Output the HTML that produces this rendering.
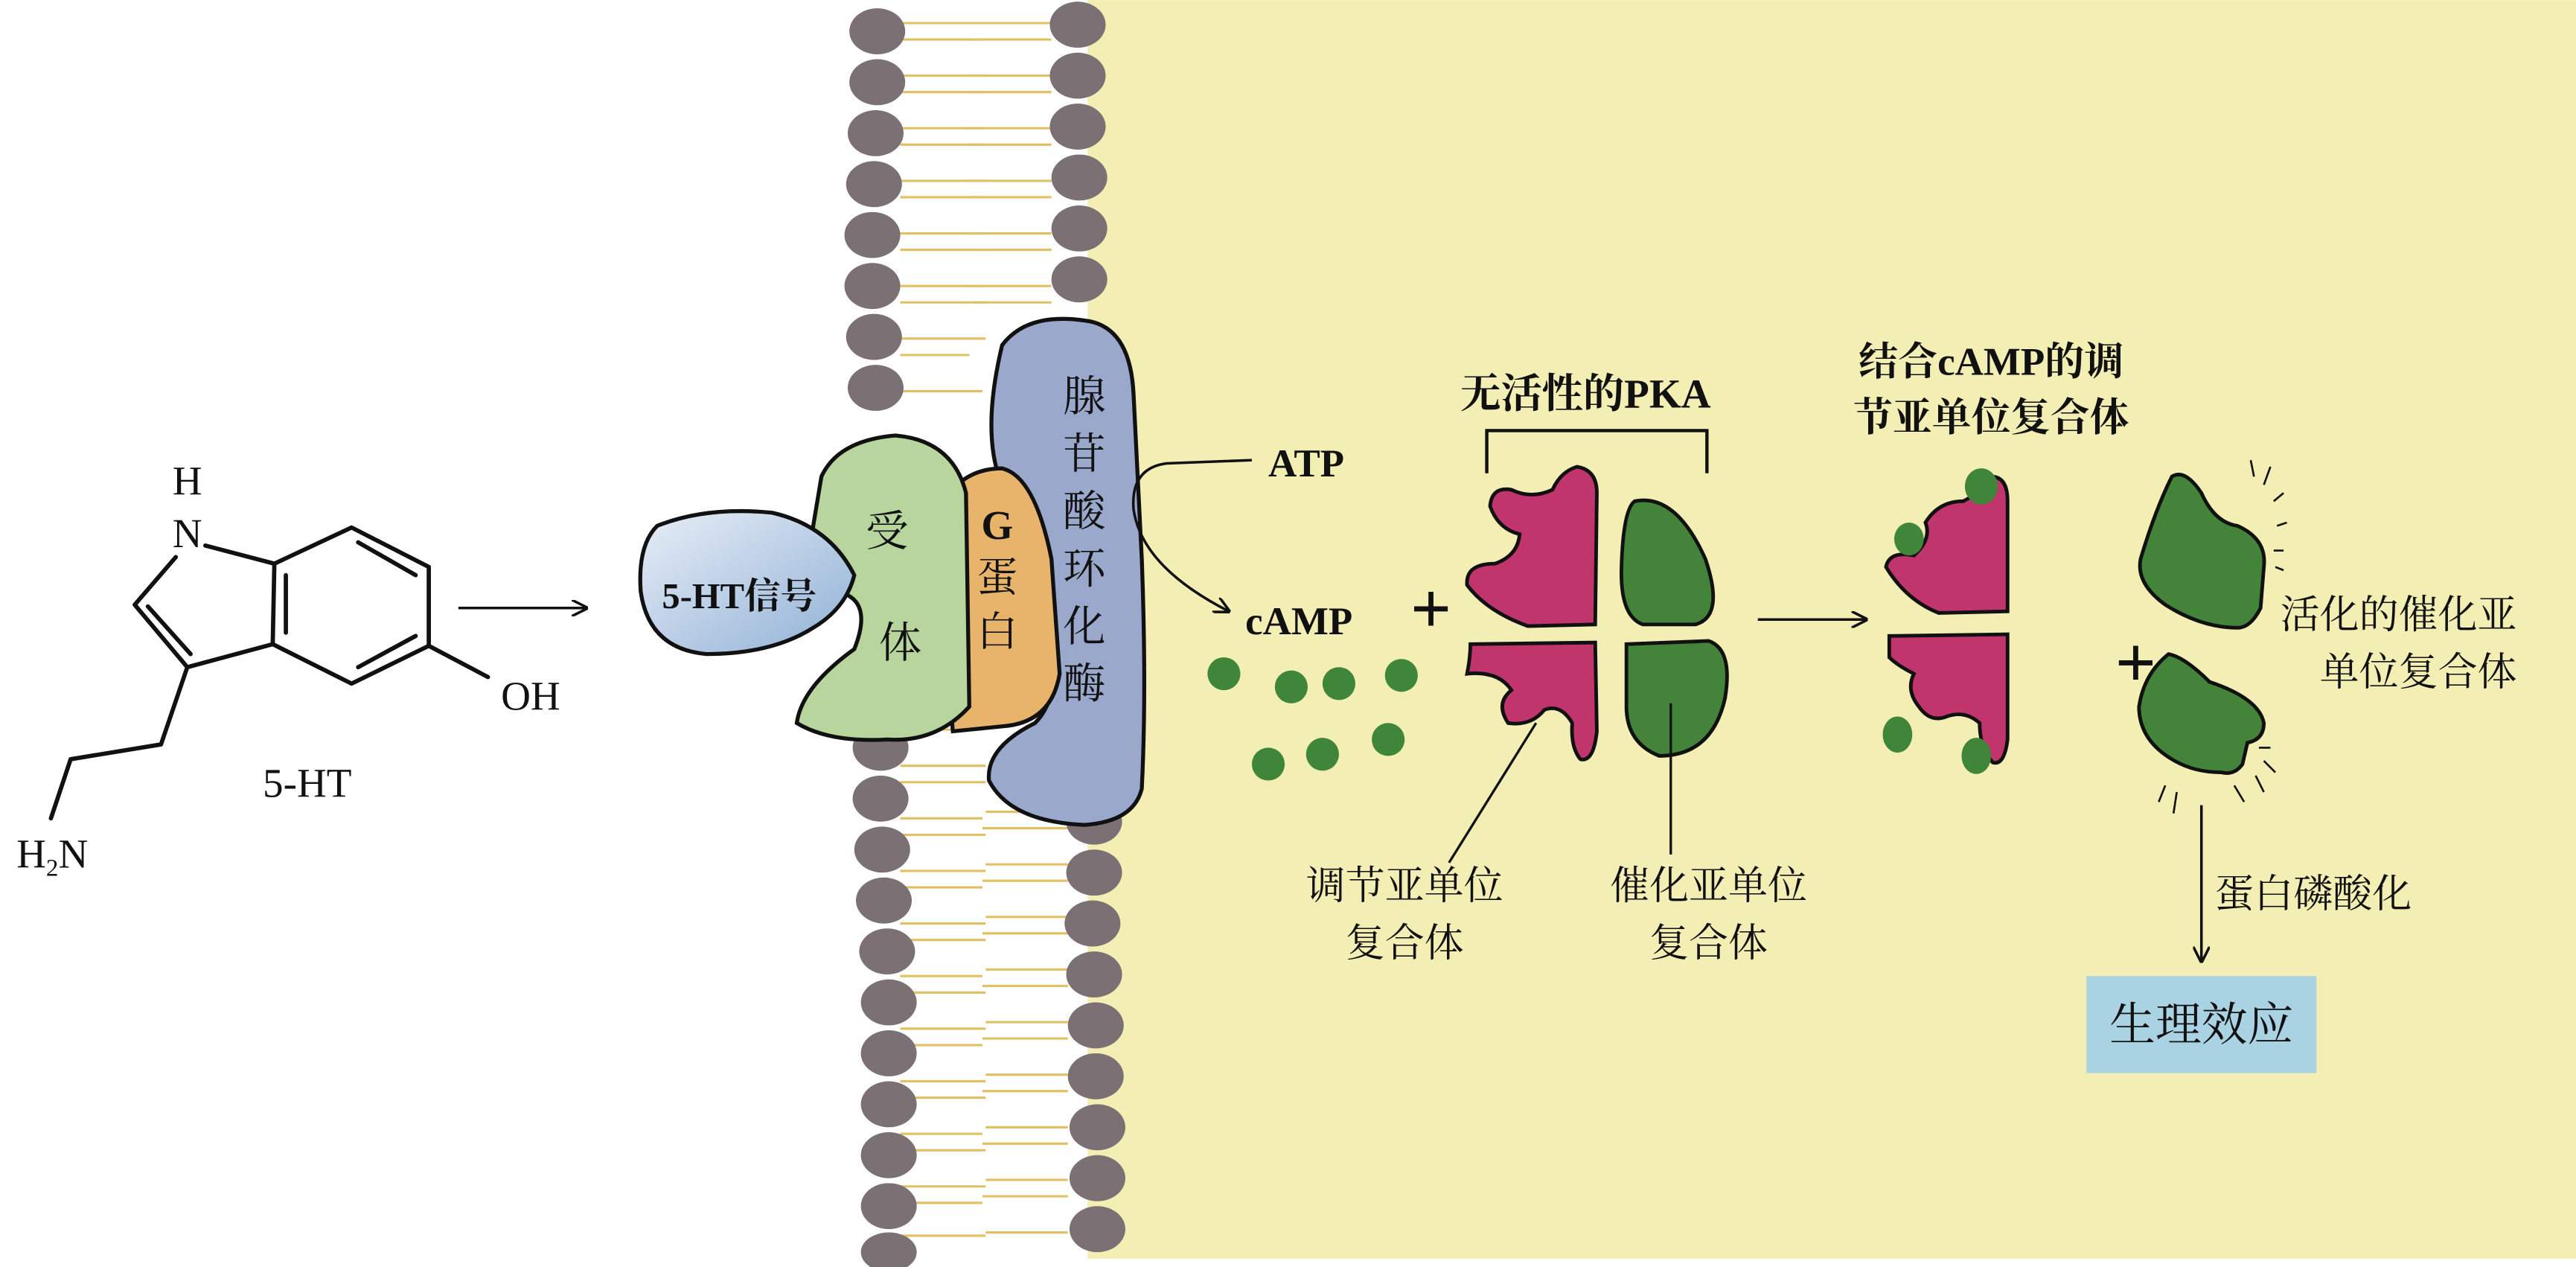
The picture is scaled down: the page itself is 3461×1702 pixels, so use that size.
<!DOCTYPE html>
<html><head><meta charset="utf-8"><style>
html,body{margin:0;padding:0;background:#fff}
svg{display:block}
text{font-family:"Liberation Serif","Noto Serif CJK SC",serif;fill:#111}
</style></head><body>
<svg width="3461" height="1702" viewBox="0 0 1568 771" xmlns="http://www.w3.org/2000/svg">
<defs>
<linearGradient id="sig" x1="0" y1="0" x2="1" y2="1">
<stop offset="0" stop-color="#e8eef6"/><stop offset="1" stop-color="#8fb0d6"/></linearGradient>
<marker id="ar" markerWidth="10" markerHeight="10" refX="9" refY="5" orient="auto" markerUnits="userSpaceOnUse">
<path d="M0,0 L10,5 L0,10" fill="none" stroke="#111" stroke-width="1.6"/></marker>
</defs>
<rect x="0" y="0" width="1568" height="771" fill="#fff"/>
<rect x="662" y="0" width="906" height="766" fill="#f2eeb4"/>

<g stroke="#e3bf63" stroke-width="1.4" fill="none">
<path d="M548,14 H600 M548,24 H598 M548,46 H600 M548,56 H600 M548,78 H598 M548,88 H600 M548,110 H600 M548,120 H598 M548,142 H600 M548,152 H600 M548,174 H598 M548,184 H600 M548,206 H600 M548,216 H590 M548,238 H598"/>
<path d="M548,434 H600 M548,444 H598 M548,466 H600 M548,476 H600 M548,498 H598 M548,508 H600 M548,530 H600 M548,540 H598 M548,562 H600 M548,572 H600 M548,594 H598 M548,604 H600 M548,626 H600 M548,636 H598 M548,658 H600 M548,668 H600 M548,690 H598 M548,700 H600 M548,722 H600 M548,732 H598 M548,752 H600"/>
<path d="M640,14 H588 M640,24 H590 M640,46 H588 M640,56 H590 M640,78 H588 M640,88 H590 M640,110 H588 M640,120 H590 M640,142 H588 M640,152 H590 M640,174 H588 M640,184 H592"/>
<path d="M650,494 H600 M650,504 H598 M650,526 H600 M650,536 H598 M650,558 H600 M650,568 H598 M650,590 H600 M650,600 H598 M650,622 H600 M650,632 H598 M650,654 H600 M650,664 H598 M650,686 H600 M650,696 H598 M650,718 H600 M650,728 H598 M650,750 H600"/>
</g>
<g fill="#7b7175">
<ellipse cx="534" cy="19" rx="17" ry="14"/><ellipse cx="534" cy="50" rx="17" ry="14"/><ellipse cx="533" cy="81" rx="17" ry="14"/><ellipse cx="532" cy="112" rx="17" ry="14"/><ellipse cx="531" cy="143" rx="17" ry="14"/><ellipse cx="531" cy="174" rx="17" ry="14"/><ellipse cx="532" cy="205" rx="17" ry="14"/><ellipse cx="533" cy="236" rx="17" ry="14"/>
<ellipse cx="536" cy="455" rx="17" ry="14"/><ellipse cx="536" cy="486" rx="17" ry="14"/><ellipse cx="537" cy="517" rx="17" ry="14"/><ellipse cx="538" cy="548" rx="17" ry="14"/><ellipse cx="540" cy="579" rx="17" ry="14"/><ellipse cx="541" cy="610" rx="17" ry="14"/><ellipse cx="541" cy="641" rx="17" ry="14"/><ellipse cx="541" cy="672" rx="17" ry="14"/><ellipse cx="541" cy="703" rx="17" ry="14"/><ellipse cx="541" cy="734" rx="17" ry="14"/><ellipse cx="541" cy="762" rx="17" ry="12"/>
<ellipse cx="656" cy="15" rx="17" ry="14"/><ellipse cx="656" cy="46" rx="17" ry="14"/><ellipse cx="656" cy="77" rx="17" ry="14"/><ellipse cx="657" cy="108" rx="17" ry="14"/><ellipse cx="657" cy="139" rx="17" ry="14"/><ellipse cx="657" cy="170" rx="17" ry="14"/>
<ellipse cx="666" cy="500" rx="17" ry="14"/><ellipse cx="666" cy="531" rx="17" ry="14"/><ellipse cx="665" cy="562" rx="17" ry="14"/><ellipse cx="666" cy="593" rx="17" ry="14"/><ellipse cx="667" cy="624" rx="17" ry="14"/><ellipse cx="667" cy="655" rx="17" ry="14"/><ellipse cx="668" cy="686" rx="17" ry="14"/><ellipse cx="668" cy="717" rx="17" ry="14"/><ellipse cx="668" cy="748" rx="17" ry="14"/>
</g>

<!-- 5-HT molecule -->
<g stroke="#111" stroke-width="2.6" fill="none" stroke-linecap="round" stroke-linejoin="round">
<path d="M167,343 L214,321 L261,345 L261,393 L214,416 L166,392 Z"/>
<path d="M174,350 L174,385 M218,330 L253,350 M218,406 L253,387"/>
<path d="M125,332 L167,343"/>
<path d="M107,339 L82,368 L114,406 L166,392"/>
<path d="M90,369 L116,398"/>
<path d="M114,406 L98,453 L43,462 L31,498"/>
<path d="M261,393 L297,412"/>
</g>
<text x="114" y="301" font-size="25" text-anchor="middle">H</text>
<text x="114" y="333" font-size="25" text-anchor="middle">N</text>
<text x="323" y="432" font-size="25" text-anchor="middle">OH</text>
<text x="10" y="528" font-size="25">H<tspan font-size="15" dy="5">2</tspan><tspan dy="-5">N</tspan></text>
<text x="187" y="485" font-size="25" text-anchor="middle">5-HT</text>
<line x1="279" y1="370" x2="357" y2="370" stroke="#111" stroke-width="1.6" marker-end="url(#ar)"/>

<path d="M610,210 Q625,190 660,195 Q688,198 690,240 L695,340 Q698,420 695,480 Q690,500 660,502 Q615,500 602,475 Q600,455 630,440 Q650,420 640,360 Q628,310 608,290 Q598,260 610,210 Z" fill="#9aa9cb" stroke="#111" stroke-width="2.4"/>
<path d="M578,300 Q590,285 610,285 Q630,290 640,340 L645,410 Q640,440 610,442 L580,445 Q574,380 578,300 Z" fill="#e8b46c" stroke="#111" stroke-width="2.4"/>
<path d="M500,290 Q510,268 545,265 Q580,268 588,300 L590,430 Q570,452 540,450 Q505,452 485,440 Q488,418 520,395 Q532,365 510,360 Q492,345 495,320 Z" fill="#b7d59d" stroke="#111" stroke-width="2.4"/>
<path d="M400,320 Q430,308 470,312 Q505,320 520,350 Q515,370 495,382 Q470,398 430,398 Q395,395 390,360 Q388,332 400,320 Z" fill="url(#sig)" stroke="#111" stroke-width="2.4"/>
<text x="450" y="370" font-size="22" text-anchor="middle" font-weight="bold">5-HT信号</text>
<text x="540" y="332" font-size="26" text-anchor="middle">受</text>
<text x="548" y="400" font-size="26" text-anchor="middle">体</text>
<text x="607" y="328" font-size="25" text-anchor="middle" font-weight="bold">G</text>
<text x="607" y="360" font-size="25" text-anchor="middle">蛋</text>
<text x="607" y="393" font-size="25" text-anchor="middle">白</text>
<g font-size="26" text-anchor="middle">
<text x="660" y="250">腺</text><text x="660" y="285">苷</text><text x="660" y="320">酸</text><text x="660" y="355">环</text><text x="660" y="390">化</text><text x="660" y="425">酶</text>
</g>

<path d="M762,280 L710,282 Q688,285 690,310 Q695,345 748,372" fill="none" stroke="#111" stroke-width="1.6" marker-end="url(#ar)"/>
<text x="772" y="290" font-size="24" font-weight="bold">ATP</text>
<text x="758" y="386" font-size="24" font-weight="bold">cAMP</text>
<text x="871" y="385" font-size="44" font-weight="bold" text-anchor="middle">+</text>
<g fill="#3f853a">
<circle cx="745" cy="410" r="10"/><circle cx="786" cy="418" r="10"/><circle cx="815" cy="416" r="10"/><circle cx="853" cy="411" r="10"/><circle cx="772" cy="465" r="10"/><circle cx="805" cy="459" r="10"/><circle cx="845" cy="450" r="10"/>
</g>

<text x="965" y="248" font-size="25" text-anchor="middle" font-weight="bold">无活性的PKA</text>
<path d="M905,288 V262 H1039 V288" fill="none" stroke="#111" stroke-width="2"/>
<g stroke="#111" stroke-width="2.2">
<path d="M960,284 Q972,286 972,300 L971,380 L930,381 Q905,372 893,356 Q892,343 910,343 Q924,338 925,325 Q912,322 907,308 Q908,296 920,298 Q932,304 945,298 Q950,287 960,284 Z" fill="#c0356b"/>
<path d="M895,392 L971,391 L972,445 Q970,464 962,462 Q956,455 957,440 Q950,428 940,432 Q932,442 918,440 Q910,428 920,420 Q912,408 893,410 Q895,400 895,392 Z" fill="#c0356b"/>
<path d="M995,305 Q1020,300 1038,340 Q1050,375 1032,380 L1000,380 Q986,375 987,345 Q988,310 995,305 Z" fill="#43843a"/>
<path d="M990,392 L1040,390 Q1055,395 1050,425 Q1042,460 1010,460 Q990,452 990,430 Z" fill="#43843a"/>
</g>
<line x1="935" y1="440" x2="882" y2="525" stroke="#111" stroke-width="1.5"/>
<line x1="1017" y1="428" x2="1017" y2="520" stroke="#111" stroke-width="1.5"/>
<text x="855" y="547" font-size="24" text-anchor="middle">调节亚单位</text>
<text x="855" y="582" font-size="24" text-anchor="middle">复合体</text>
<text x="1040" y="547" font-size="24" text-anchor="middle">催化亚单位</text>
<text x="1040" y="582" font-size="24" text-anchor="middle">复合体</text>

<line x1="1070" y1="377" x2="1136" y2="377" stroke="#111" stroke-width="1.6" marker-end="url(#ar)"/>

<text x="1212" y="228" font-size="24" text-anchor="middle" font-weight="bold">结合cAMP的调</text>
<text x="1212" y="262" font-size="24" text-anchor="middle" font-weight="bold">节亚单位复合体</text>
<g stroke="#111" stroke-width="2.2">
<path d="M1212,290 Q1222,290 1222,305 L1222,372 L1180,373 Q1160,365 1148,345 Q1150,335 1165,338 Q1176,328 1172,318 Q1180,305 1195,305 Q1205,300 1212,290 Z" fill="#c0356b"/>
<path d="M1150,387 L1222,386 L1222,450 Q1220,466 1213,464 Q1205,455 1205,440 Q1196,432 1185,436 Q1175,440 1168,430 Q1160,420 1165,410 Q1155,405 1150,400 Z" fill="#c0356b"/>
</g>
<g fill="#3f853a">
<ellipse cx="1206" cy="296" rx="10" ry="11"/><ellipse cx="1162" cy="328" rx="9" ry="10"/><ellipse cx="1155" cy="447" rx="9" ry="11"/><ellipse cx="1203" cy="460" rx="9" ry="11"/>
</g>
<text x="1300" y="418" font-size="44" font-weight="bold" text-anchor="middle">+</text>

<g stroke="#111" stroke-width="2.2" fill="#43843a">
<path d="M1322,290 Q1330,285 1340,300 Q1348,318 1362,320 Q1380,328 1378,345 L1376,370 Q1370,382 1362,382 Q1340,382 1318,368 Q1300,355 1303,340 Q1312,310 1322,290 Z"/>
<path d="M1320,398 Q1330,400 1345,415 Q1375,425 1378,440 Q1378,450 1368,452 L1365,465 Q1360,472 1352,470 Q1335,470 1322,462 Q1302,450 1302,430 Q1305,410 1320,398 Z"/>
</g>
<g stroke="#111" stroke-width="1.2">
<path d="M1370,280 L1372,290 M1382,284 L1378,295 M1390,300 L1384,305 M1392,318 L1386,320 M1390,335 L1384,335 M1390,347 L1385,345 M1375,455 L1382,455 M1378,463 L1385,470 M1373,472 L1378,482 M1318,478 L1314,488 M1325,482 L1323,495 M1360,478 L1366,488"/>
</g>
<text x="1460" y="382" font-size="24" text-anchor="middle">活化的催化亚</text>
<text x="1472" y="417" font-size="24" text-anchor="middle">单位复合体</text>

<line x1="1340" y1="490" x2="1340" y2="585" stroke="#111" stroke-width="1.6" marker-end="url(#ar)"/>
<text x="1348" y="552" font-size="24">蛋白磷酸化</text>
<rect x="1270" y="594" width="140" height="59" fill="#a9d3e3"/>
<text x="1340" y="633" font-size="28" text-anchor="middle">生理效应</text>
</svg>
</body></html>
